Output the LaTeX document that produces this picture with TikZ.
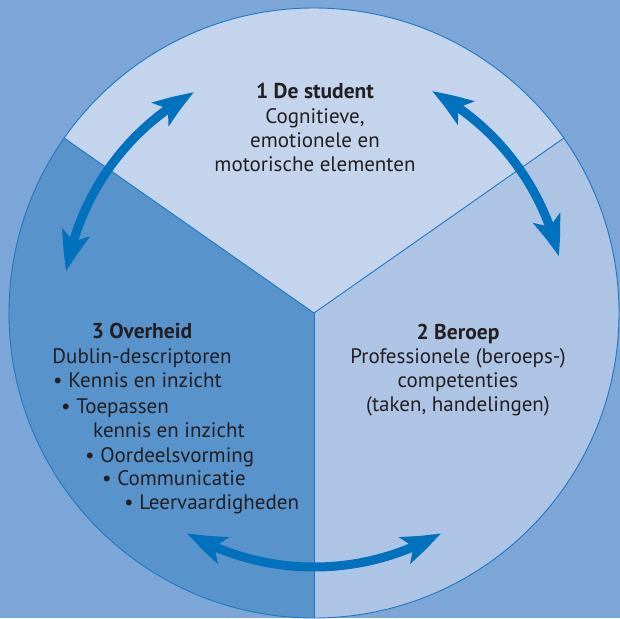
\documentclass[tikz,border=0pt]{standalone}
\usepackage{fontspec}
\setmainfont{PT Sans}
\usetikzlibrary{arrows.meta,bending}
\definecolor{bg}{RGB}{123,166,215}
\definecolor{secTop}{RGB}{197,212,237}
\definecolor{secRight}{RGB}{174,196,228}
\definecolor{secLeft}{RGB}{89,147,204}
\definecolor{edge}{RGB}{30,120,195}
\definecolor{arrowblue}{RGB}{0,113,188}
\definecolor{ink}{RGB}{35,31,32}
\tikzset{
  txt/.style={inner sep=0pt, text=ink, font=\fontsize{21}{24}\selectfont},
  head/.style={txt, font=\fontsize{21.5}{24}\selectfont\bfseries},
  sepline/.style={draw=edge, line width=0.9pt},
  bigarrow/.style={draw=arrowblue, line width=9pt,
    {Stealth[length=40pt,width=28pt,inset=9pt,bend]}-{Stealth[length=40pt,width=28pt,inset=9pt,bend]}},
}
\begin{document}
\begin{tikzpicture}[x=1pt,y=-1pt]
\useasboundingbox (0,0) rectangle (620,618);
\fill[bg] (0,0) rectangle (620,618);
\coordinate (C) at (314,313);
% sectors (visual angle a corresponds to -a here)
\fill[secTop] (C) -- ++(-35:305) arc[start angle=-35, end angle=-145, radius=305] -- cycle;
\fill[secLeft] (C) -- ++(-145:305) arc[start angle=-145, end angle=-270, radius=305] -- cycle;
\fill[secRight] (C) -- ++(-270:305) arc[start angle=-270, end angle=-395, radius=305] -- cycle;
\draw[sepline] (C) circle[radius=305];
\draw[sepline] (C) -- ++(-35:305);
\draw[sepline] (C) -- ++(-145:305);
\draw[sepline] (C) -- ++(-270:305);
% arrows
\coordinate (aL) at ([shift={(-170.5:251)}]C);
\draw[bigarrow] (aL) arc[start angle=-170.5, end angle=-118.5, radius=251];
\coordinate (aR) at ([shift={(-62:251)}]C);
\draw[bigarrow] (aR) arc[start angle=-62, end angle=-13, radius=251];
\coordinate (aB) at ([shift={(-240:254)}]C);
\draw[bigarrow] (aB) arc[start angle=-240, end angle=-300, radius=254];
% texts top
\node[head, anchor=base] (t1) at (315,98) {1 De student};
\node[txt, anchor=base] (t2) at (315,123) {Cognitieve,};
\node[txt, anchor=base] (t3) at (315,147) {emotionele en};
\node[txt, anchor=base] (t4) at (315,171) {motorische elementen};
% texts right
\node[head, anchor=base] (r1) at (458,339) {2 Beroep};
\node[txt, anchor=base] (r2) at (458,363) {Professionele (beroeps-)};
\node[txt, anchor=base] (r3) at (458,387) {competenties};
\node[txt, anchor=base] (r4) at (458,411) {(taken, handelingen)};
% texts left
\node[head, anchor=base] (l0) at (142,338) {3 Overheid};
\node[txt, anchor=base] (lh) at (142,363) {Dublin-descriptoren};
\node[txt, anchor=base west] (l1) at (53,387) {• Kennis en inzicht};
\node[txt, anchor=base west] (l2) at (61,413) {• Toepassen};
\node[txt, anchor=base west] (l3) at (93,437) {kennis en inzicht};
\node[txt, anchor=base west] (l4) at (85,462) {• Oordeelsvorming};
\node[txt, anchor=base west] (l5) at (102,485) {• Communicatie};
\node[txt, anchor=base west] (l6) at (124,509) {• Leervaardigheden};
\end{tikzpicture}
\end{document}
